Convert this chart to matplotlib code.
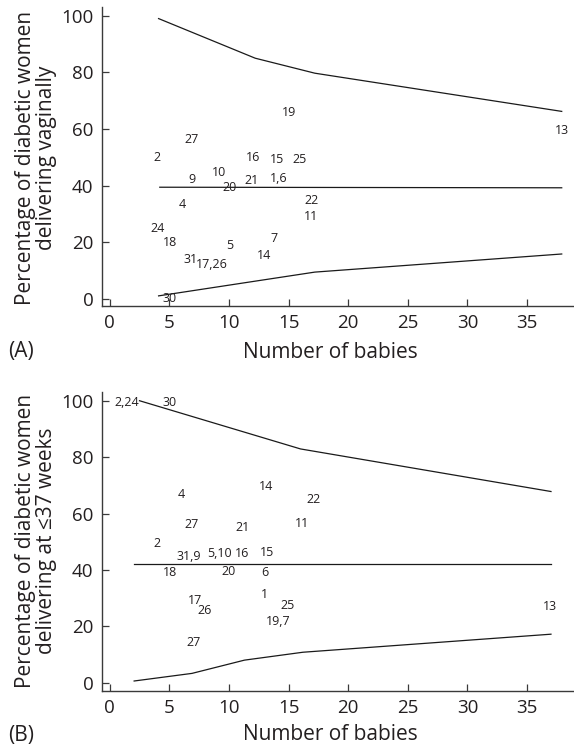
import matplotlib
matplotlib.use("Agg")
import matplotlib.pyplot as plt

plt.rcParams['font.family'] = ['Open Sans', 'DejaVu Sans']

# ---------------- Panel A data ----------------
a_labels = ['19', '13', '27', '2', '16', '15', '25', '10', '9', '21', '1,6', '20',
            '4', '22', '11', '24', '18', '5', '7', '14', '31', '17,26', '30']
a_x = [15.06, 37.95, 6.88, 4.0, 12.05, 14.07, 15.95, 9.16, 6.88, 11.9, 14.2, 10.05,
       6.05, 16.9, 16.9, 4.0, 5.07, 10.05, 13.8, 12.97, 6.82, 8.57, 4.98]
a_y = [65.9, 59.6, 56.3, 49.9, 50.0, 49.2, 49.2, 44.7, 42.1, 41.9, 42.5, 39.2,
       33.4, 34.8, 28.9, 24.8, 19.9, 18.9, 21.3, 15.2, 13.9, 12.0, 0.0]
a_lim_x = [4.1, 12.2, 17.2, 37.9]
a_upper = [99.0, 85.0, 79.7, 66.2]
a_lower = [1.0, 6.2, 9.4, 15.8]
a_mean_x = [4.2, 37.9]
a_mean = [39.4, 39.2]

# ---------------- Panel B data ----------------
b_labels = ['2,24', '30', '14', '4', '22', '27', '21', '11', '2', '31,9', '5,10', '16',
            '15', '18', '20', '6', '1', '17', '26', '25', '19,7', '13', '27']
b_x = [1.44, 4.98, 13.1, 6.0, 17.06, 6.88, 11.1, 16.1, 4.0, 6.6, 9.22, 11.1,
       13.2, 5.07, 9.96, 12.97, 13.0, 7.13, 7.93, 14.9, 14.1, 36.9, 7.04]
b_y = [99.4, 99.4, 69.6, 66.7, 65.1, 56.1, 54.9, 56.6, 49.5, 44.6, 45.8, 45.8,
       46.3, 39.0, 39.3, 39.0, 31.3, 29.2, 25.7, 27.2, 21.6, 27.1, 14.2]
b_upper_x = [2.5, 16.0, 37.0]
b_upper = [100.0, 82.9, 67.8]
b_lower_x = [2.05, 6.9, 11.3, 16.2, 37.0]
b_lower = [0.6, 3.3, 8.0, 10.8, 17.2]
b_mean_x = [2.05, 37.0]
b_mean = [42.1, 42.1]

x_ticks = [0, 5, 10, 15, 20, 25, 30, 35]
y_ticks = [0, 20, 40, 60, 80, 100]

TXT = '#231f20'
W, H = 574, 747
fig = plt.figure(figsize=(W / 100, H / 100), dpi=100)


def make_axes(top_px, bottom_px, ylim):
    left_px, right_px = 101.7, 574
    ax = fig.add_axes([left_px / W, 1 - bottom_px / H,
                       (right_px - left_px) / W, (bottom_px - top_px) / H])
    ax.set_xlim(-0.67, 38.93)
    ax.set_ylim(*ylim)
    for s in ['top', 'right']:
        ax.spines[s].set_visible(False)
    for s in ['left', 'bottom']:
        ax.spines[s].set_color('#3a3a3a')
        ax.spines[s].set_linewidth(1.0)
    ax.set_xticks(x_ticks)
    ax.set_yticks(y_ticks)
    ax.tick_params(direction='in', length=5, width=0.9, color='#3a3a3a',
                   labelsize=13.5, labelcolor=TXT, pad=6)
    ax.patch.set_alpha(0)
    return ax


def draw(ax, labels, xs, ys):
    for lab, x, y in zip(labels, xs, ys):
        ax.text(x, y, lab, ha='center', va='center', fontsize=9, color=TXT)


# Panel A
axA = make_axes(6.7, 306, (-2.58, 103.2))
axA.plot(a_lim_x, a_upper, color='#1a1a1a', lw=0.9)
axA.plot(a_lim_x, a_lower, color='#1a1a1a', lw=0.9)
axA.plot(a_mean_x, a_mean, color='#1a1a1a', lw=0.9)
draw(axA, a_labels, a_x, a_y)

# Panel B
axB = make_axes(391.7, 690.7, (-2.84, 103.2))
axB.plot(b_upper_x, b_upper, color='#1a1a1a', lw=0.9)
axB.plot(b_lower_x, b_lower, color='#1a1a1a', lw=0.9)
axB.plot(b_mean_x, b_mean, color='#1a1a1a', lw=0.9)
draw(axB, b_labels, b_x, b_y)

# axis labels
fig.text(36 / W, 1 - 158 / H, 'Percentage of diabetic women\ndelivering vaginally',
         rotation=90, ha='center', va='center', fontsize=15, color=TXT,
         linespacing=1.0)
fig.text(36 / W, 1 - 541 / H, 'Percentage of diabetic women\ndelivering at \u226437 weeks',
         rotation=90, ha='center', va='center', fontsize=15, color=TXT,
         linespacing=1.0)
fig.text(330 / W, 1 - 352 / H, 'Number of babies', ha='center', va='center',
         fontsize=15, color=TXT)
fig.text(330 / W, 1 - 735 / H, 'Number of babies', ha='center', va='center',
         fontsize=15, color=TXT)
fig.text(8 / W, 1 - 352 / H, '(A)', ha='left', va='center', fontsize=15, color=TXT)
fig.text(8 / W, 1 - 736 / H, '(B)', ha='left', va='center', fontsize=15, color=TXT)

fig.savefig('out.png', dpi=100)
